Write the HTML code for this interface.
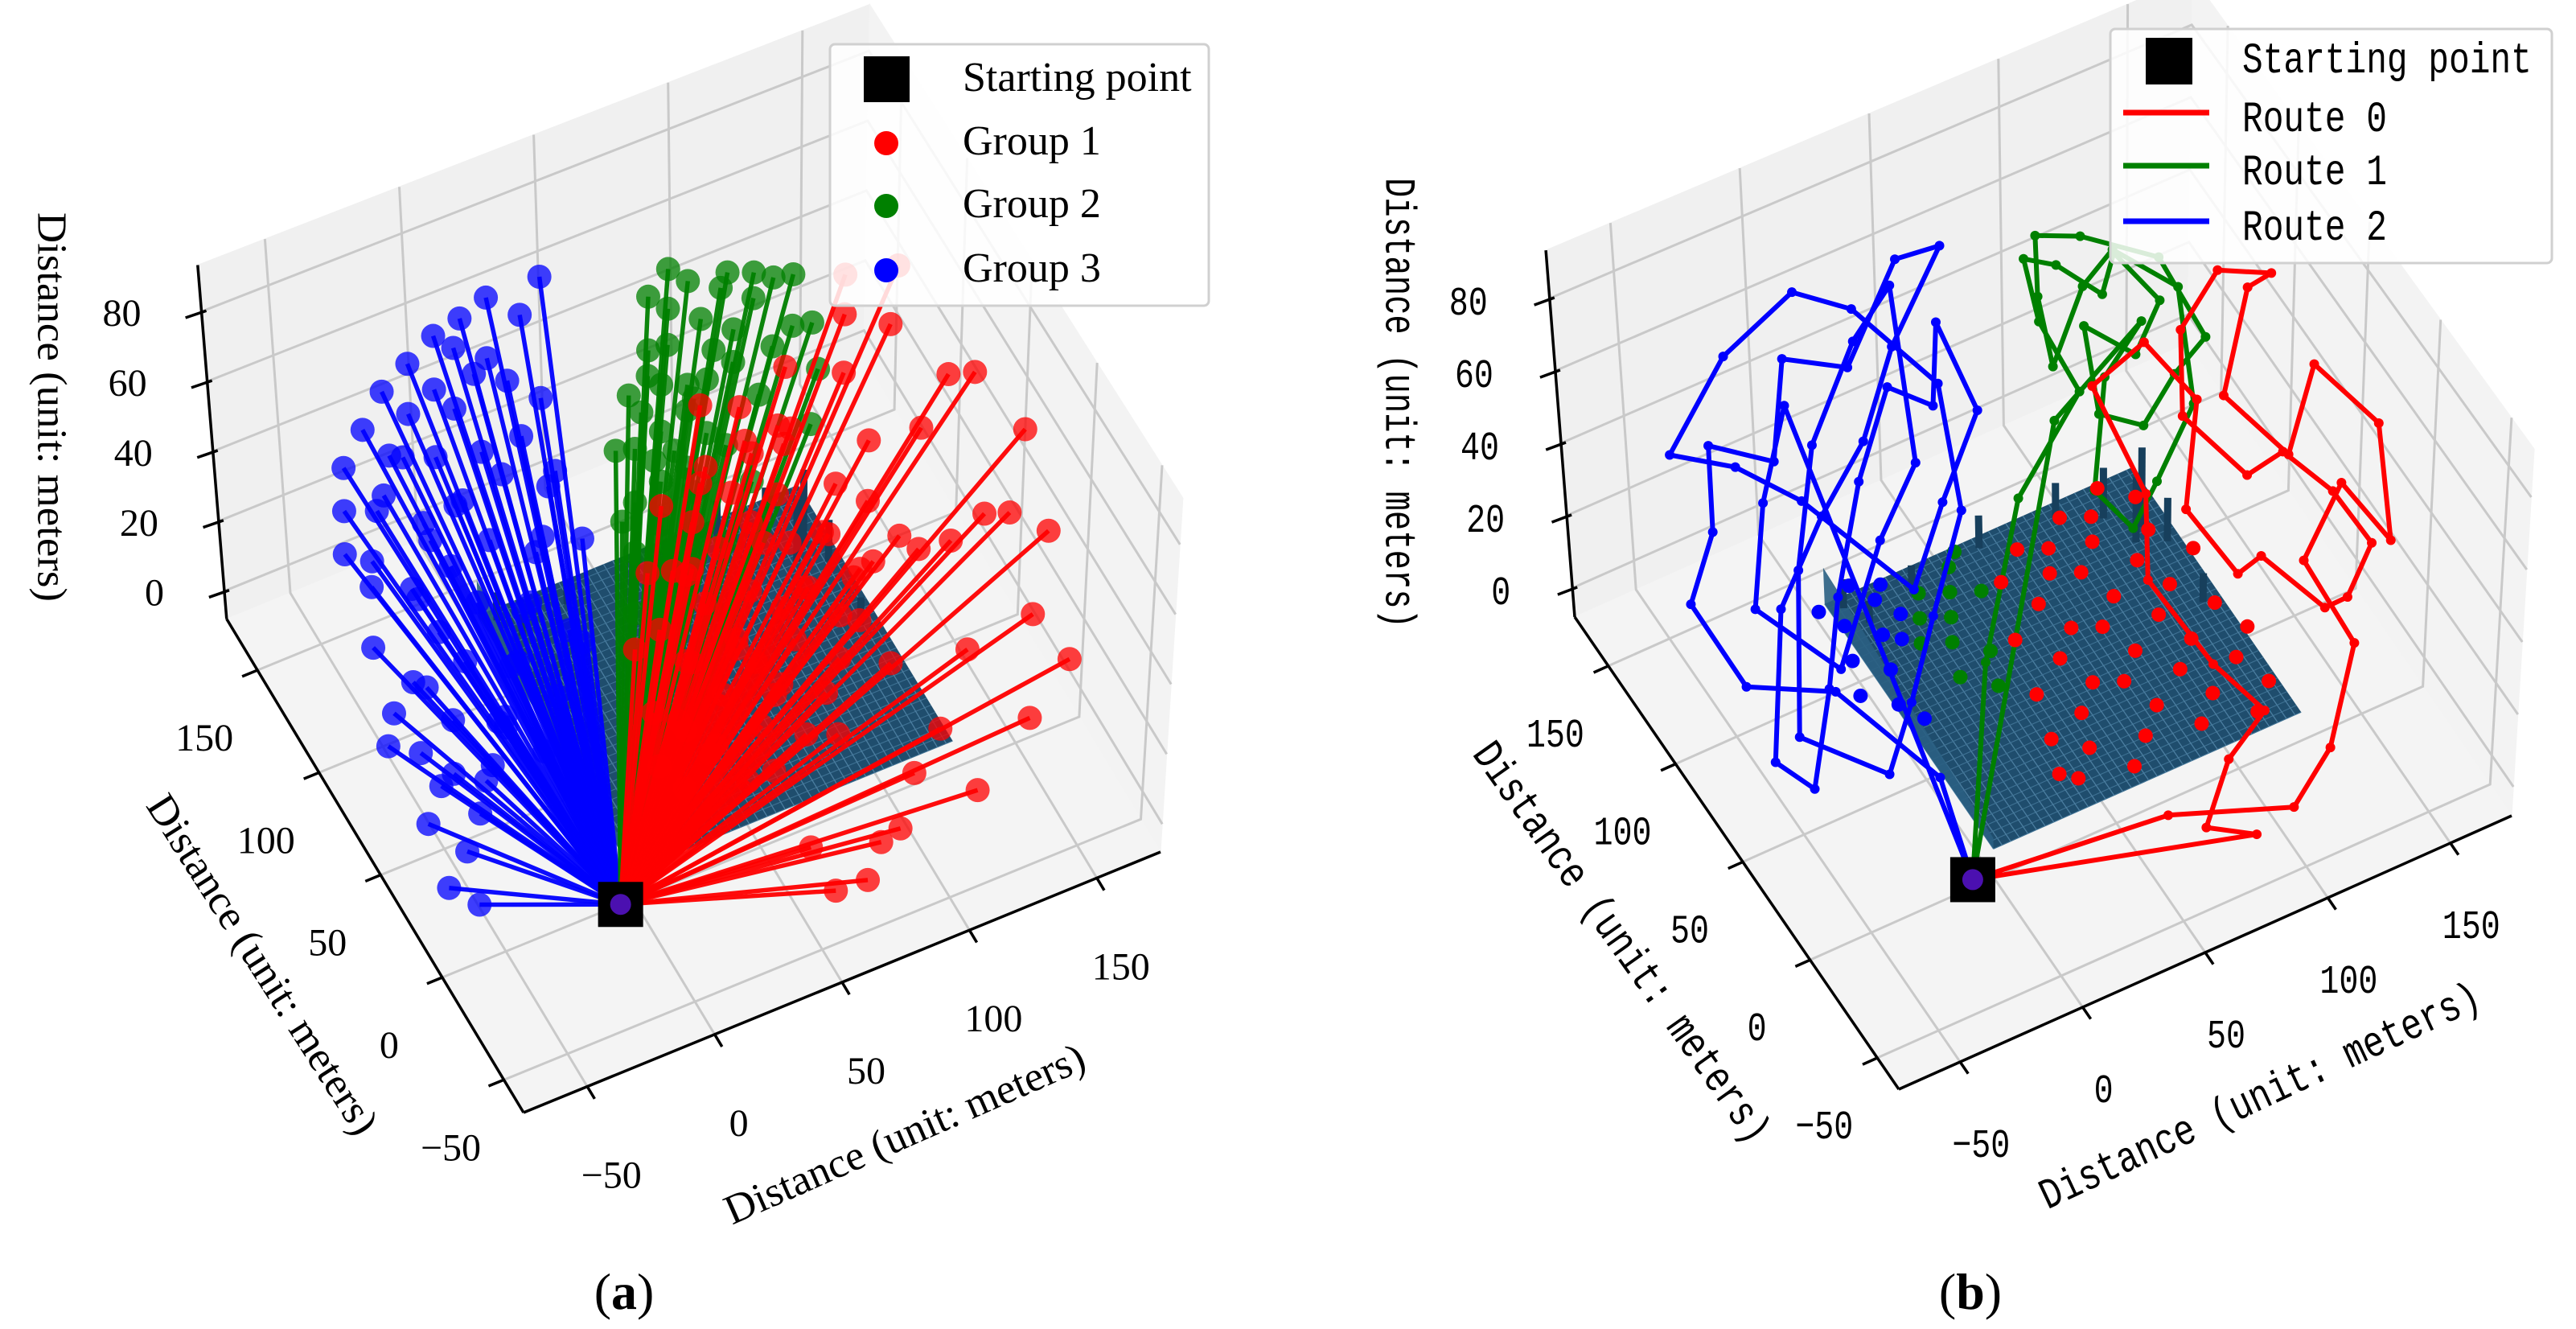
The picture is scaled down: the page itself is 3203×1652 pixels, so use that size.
<!DOCTYPE html>
<html><head><meta charset="utf-8"><title>3D grouping and routes</title>
<style>html,body{margin:0;padding:0;background:#fff;}svg{display:block;}</style>
</head><body>
<svg id="fig" xmlns="http://www.w3.org/2000/svg" width="3203" height="1652" viewBox="0 0 3203 1652">
<rect x="0" y="0" width="3203" height="1652" fill="#ffffff"/>
<g id="pa"></g>
<g id="pb"></g>
</svg>
<script>
// ---- data ----
const xTicks=[-50,0,50,100,150];
const yTicks=[-50,0,50,100,150];
const zTicks=[0,20,40,60,80];
const startA=[-5,0,-8];
const startB=[-7,3,-8];
const group1Pts=[[160,10,20],[150,30,40],[170,0,10],[140,60,50],[120,80,60],[100,90,45],[130,40,30],[110,20,15],[90,50,25],[80,70,35],[150,-10,5],[60,-40,0],[70,-45,3],[80,-35,5],[55,-30,8],[100,-20,10],[120,0,5],[140,20,10],[165,40,30],[155,70,55],[130,100,62],[110,105,50],[95,110,40],[75,100,30],[60,80,20],[50,60,10],[40,40,5],[30,20,3],[70,30,12],[85,10,8],[105,60,30],[125,70,45],[140,85,65],[160,60,60],[135,110,66],[90,90,40],[65,50,15],[45,80,25],[100,40,20],[170,20,35],[175,50,45],[120,-30,5],[90,-30,3],[60,10,5],[80,110,45],[150,100,70],[60,100,28],[35,70,12],[115,55,20],[145,45,25],
[40,20,10],[50,30,18],[60,40,25],[70,50,30],[80,60,35],[90,70,40],[45,45,20],[55,55,28],[65,65,35],[75,75,42],[85,85,48],[50,10,5],[60,20,12],[70,25,18],[80,35,22],[90,45,28],[100,55,35],[110,65,40],[40,60,22],[50,70,30],[60,75,38],[70,85,45],[35,35,12],[45,25,8],[95,30,15],[105,35,20],[115,45,28],[75,15,8],[85,20,14],[65,35,20],[55,65,32],[100,80,50],[90,60,32],[80,45,25],[30,45,10],[25,30,5],[110,50,22],[120,60,35],[130,55,25],[95,75,50]];
const group2Pts=[[60,90,20],[70,110,35],[80,120,45],[90,130,55],[100,135,58],[110,130,55],[120,120,50],[95,115,50],[85,100,38],[75,80,25],[65,70,15],[55,60,10],[100,105,45],[110,115,50],[120,135,55],[105,140,58],[90,140,60],[80,135,58],[70,130,52],[60,125,45],[50,115,38],[45,100,28],[40,80,15],[130,125,45],[125,110,42],[115,95,38],[90,90,32],[80,115,44],[70,100,36],[60,105,38],[100,125,52],[115,140,55],[130,140,50],[85,145,62],[75,140,60],[50,60,5],[40,50,3],[35,60,5],
[50,80,25],[55,90,30],[60,100,35],[65,110,42],[70,120,48],[75,125,55],[45,90,25],[50,100,32],[55,110,40],[60,115,46],[65,120,52],[40,70,12],[45,75,18],[35,70,10],[55,85,28],[70,95,32],[80,105,40],[85,115,48],[90,120,52],[75,110,45]];
const group3Pts=[[-60,100,50],[-55,110,55],[-50,120,60],[-40,125,65],[-30,130,70],[-20,130,75],[-10,130,80],[0,130,82],[10,130,85],[20,125,80],[30,130,85],[-60,80,35],[-65,60,20],[-60,40,8],[-50,50,10],[-45,70,25],[-40,90,40],[-30,100,50],[-20,110,60],[-10,115,68],[0,120,72],[10,115,70],[20,110,65],[-55,90,45],[-45,105,55],[-35,115,62],[-25,120,68],[-15,120,72],[-5,125,78],[5,120,75],[-50,30,3],[-40,40,5],[-30,50,10],[-20,60,15],[-10,70,22],[0,80,30],[10,90,40],[20,100,50],[25,90,35],[15,70,20],[-62,20,2],[-55,10,1],
[-40,60,20],[-30,70,28],[-20,80,36],[-10,90,45],[0,100,55],[10,105,60],[-35,80,32],[-25,90,42],[-15,100,52],[-5,105,60],[-45,50,12],[-35,45,10],[-25,55,18],[-15,65,25],[-5,75,32],[5,85,40],[15,95,50],[-50,70,28],[-40,85,40],[-30,95,48],[-20,60,12],[-10,50,8],[0,60,15],[10,70,25],[-55,55,18],[-60,65,25],[-50,100,45],[-40,110,55],[-30,115,60],[-20,95,55]];
const route0Pts=[[60,-20,2],[100,-40,3],[120,-30,8],[140,-10,20],[130,10,35],[150,20,45],[165,10,30],[170,30,50],[155,50,60],[140,40,45],[125,60,55],[145,80,68],[160,90,62],[150,110,55],[130,100,50],[120,80,40],[135,60,30],[155,70,25],[170,60,15],[175,40,10],[160,30,5],[145,20,12],[130,40,20],[115,30,25],[105,50,35],[120,70,50],[110,90,58],[95,100,45],[100,70,30],[90,50,20],[100,20,10],[110,0,5],[90,-10,3],[70,-30,1],[85,-40,0]];
const route1Pts=[[30,60,10],[60,90,30],[90,100,45],[85,120,55],[90,140,60],[100,135,58],[110,120,55],[120,130,58],[130,115,50],[115,105,45],[100,115,52],[95,95,40],[110,90,35],[125,95,42],[140,100,45],[135,125,55],[115,145,56],[100,150,58],[90,130,55],[85,110,48],[105,125,56],[125,140,52],[140,120,48],[130,90,35],[110,80,25],[95,70,22],[85,80,30],[100,100,46],[120,110,50],[80,100,40]];
const route2Pts=[[-5,30,5],[-30,60,20],[-60,70,25],[-70,90,40],[-55,100,50],[-45,120,60],[-25,110,55],[-10,130,68],[10,120,65],[40,140,75],[60,145,70],[30,125,62],[10,110,50],[-15,95,45],[-40,80,35],[-60,50,15],[-50,40,10],[-35,55,25],[-20,75,35],[0,95,50],[20,110,62],[35,105,55],[50,130,60],[55,110,45],[30,90,38],[10,75,28],[-20,100,48],[-40,110,58],[-60,120,62],[-30,135,72],[0,140,78],[20,135,70],[45,120,50],[40,95,30],[20,80,15],[0,60,8],[-20,40,5],[-45,60,12],[-30,85,40],[-10,110,55],[15,125,68],[35,135,72],[25,100,45],[5,90,35],[-25,65,22],[-50,80,38],[-35,100,52],[-15,120,62]];
const groundRedPts=[[40,10],[50,20],[60,5],[70,15],[80,25],[90,10],[100,20],[110,5],[120,15],[55,35],[65,45],[75,40],[85,50],[95,35],[105,45],[115,30],[125,40],[60,60],[70,70],[80,65],[90,75],[100,60],[110,70],[120,55],[65,85],[75,95],[85,90],[95,100],[105,85],[115,95],[70,110],[80,105],[90,115],[100,110],[45,50],[50,75],[40,30],[35,15],[125,80],[118,110],[108,120],[58,100]];
const groundGreenPts=[[25,70],[30,85],[35,95],[40,105],[45,115],[50,100],[30,110],[20,90],[40,75],[35,60],[25,100],[50,120]];
const groundBluePts=[[0,70],[5,85],[10,100],[15,115],[-5,95],[0,110],[10,125],[20,120],[-10,80],[5,60],[15,95],[20,105],[-5,120]];
const terrainSpikes=[[110,95,18],[115,100,22],[105,110,14],[120,90,12],[5,120,8],[10,110,6],[60,120,9],[30,115,7],[90,118,10],[118,60,8]];

// ---- geometry ----
const X0=-75,X1=175,Y0=-66,Y1=175,Z0=-8,Z1=93.3;
const PA={o:[651,1383],ex:[3.168,-1.296],ey:[-1.532,-2.546],ezy:-4.343,ezL:-36,xL:281,k:0.055};
const PB={o:[2361,1354],ex:[3.048,-1.36],ey:[-1.672,-2.436],ezy:-4.5,ezL:-36,xL:1958,k:0.055};
function proj(P,x,y,z){
  const bx=P.o[0]+(x-X0)*P.ex[0]+(y-Y0)*P.ey[0];
  const by=P.o[1]+(x-X0)*P.ex[1]+(y-Y0)*P.ey[1];
  const t=z-Z0;
  const dx=(P.ezL+(bx-P.xL)*P.k)/(Z1-Z0);
  return [bx+t*dx, by+t*P.ezy];
}
const NS='http://www.w3.org/2000/svg';
function mk(tag,attrs,parent){const e=document.createElementNS(NS,tag);for(const k in attrs)e.setAttribute(k,attrs[k]);parent.appendChild(e);return e;}
function pts(arr){return arr.map(p=>p[0].toFixed(1)+','+p[1].toFixed(1)).join(' ');}

function drawFrame(P,root,prefix){
  const floor=[proj(P,X0,Y0,Z0),proj(P,X1,Y0,Z0),proj(P,X1,Y1,Z0),proj(P,X0,Y1,Z0)];
  const wallY=[proj(P,X0,Y1,Z0),proj(P,X1,Y1,Z0),proj(P,X1,Y1,Z1),proj(P,X0,Y1,Z1)];
  const wallX=[proj(P,X1,Y0,Z0),proj(P,X1,Y1,Z0),proj(P,X1,Y1,Z1),proj(P,X1,Y0,Z1)];
  let e=mk('polygon',{points:pts(wallY),fill:'#f0f0f0',stroke:'#f0f0f0','stroke-width':1},root);
  
  
  e=mk('polygon',{points:pts(wallX),fill:'#f3f3f3',stroke:'#f3f3f3','stroke-width':1},root);
  
  
  e=mk('polygon',{points:pts(floor),fill:'#f4f4f4',stroke:'#f4f4f4','stroke-width':1},root);
  
  
  const grid=mk('g',{stroke:'#c9c9c9','stroke-width':3,fill:'none'},root);
  
  
  xTicks.forEach(v=>{
    mk('polyline',{points:pts([proj(P,v,Y0,Z0),proj(P,v,Y1,Z0),proj(P,v,Y1,Z1)])},grid);
  });
  yTicks.forEach(v=>{
    mk('polyline',{points:pts([proj(P,X0,v,Z0),proj(P,X1,v,Z0),proj(P,X1,v,Z1)])},grid);
  });
  zTicks.forEach(v=>{
    mk('polyline',{points:pts([proj(P,X0,Y1,v),proj(P,X1,Y1,v),proj(P,X1,Y0,v)])},grid);
  });
}

function drawAxes(P,root,prefix,opt){
  const ax=mk('g',{stroke:'#000','stroke-width':3.5,fill:'none'},root);
  
  
  mk('polyline',{points:pts([proj(P,X0,Y0,Z0),proj(P,X1,Y0,Z0)])},ax);
  mk('polyline',{points:pts([proj(P,X0,Y0,Z0),proj(P,X0,Y1,Z0)])},ax);
  mk('polyline',{points:pts([proj(P,X0,Y1,Z0),proj(P,X0,Y1,Z1)])},ax);
  const txt=mk('g',{fill:'#000','font-family':opt.font},root);
  
  
  xTicks.forEach(v=>{
    const a=proj(P,v,Y0,Z0),b=proj(P,v,Y0-6,Z0);
    mk('line',{x1:a[0],y1:a[1],x2:b[0],y2:b[1]},ax);
    const t=mk('text',{x:a[0]+opt.xOff[0],y:a[1]+opt.xOff[1],'font-size':opt.tick,'text-anchor':'middle'},txt);
    t.textContent=(v<0?'\u2212':'')+Math.abs(v);
    if(opt.cw){t.setAttribute('textLength',t.textContent.length*opt.cw);t.setAttribute('lengthAdjust','spacingAndGlyphs');}
  });
  yTicks.forEach(v=>{
    const a=proj(P,X0,v,Z0),b=proj(P,X0-6,v,Z0);
    mk('line',{x1:a[0],y1:a[1],x2:b[0],y2:b[1]},ax);
    const t=mk('text',{x:a[0]+opt.yOff[0],y:a[1]+opt.yOff[1],'font-size':opt.tick,'text-anchor':'middle'},txt);
    t.textContent=(v<0?'\u2212':'')+Math.abs(v);
    if(opt.cw){t.setAttribute('textLength',t.textContent.length*opt.cw);t.setAttribute('lengthAdjust','spacingAndGlyphs');}
  });
  zTicks.forEach(v=>{
    const a=proj(P,X0,Y1,v),b=proj(P,X0-6,Y1,v);
    mk('line',{x1:a[0]+6,y1:a[1]-1,x2:b[0],y2:b[1]},ax);
    const t=mk('text',{x:a[0]+opt.zOff[0],y:a[1]+opt.zOff[1],'font-size':opt.tick,'text-anchor':'end'},txt);
    t.textContent=String(v);
    if(opt.cw){t.setAttribute('textLength',t.textContent.length*opt.cw);t.setAttribute('lengthAdjust','spacingAndGlyphs');}
  });
  const labels=[['x-axis-title',opt.xl],['y-axis-title',opt.yl],['z-axis-title',opt.zl]];
  labels.forEach(L=>{
    const d=L[1];
    const t=mk('text',{x:0,y:0,'font-size':opt.lab,'font-family':opt.font,'text-anchor':'middle','dominant-baseline':'central',fill:'#000',transform:'translate('+d[0]+','+d[1]+') rotate('+d[2]+')'},root);
    
    
    t.textContent='Distance (unit: meters)';
    t.setAttribute('textLength',d[3]);t.setAttribute('lengthAdjust','spacingAndGlyphs');
  });
}

function drawTerrain(P,root,prefix){
  const g=mk('g',{},root);
  
  
  const c=[proj(P,0,0,0),proj(P,125,0,0),proj(P,125,125,0),proj(P,0,125,0)];
  mk('polygon',{points:pts(c),fill:'#1f4d6d'},g);
  for(let v=0;v<=125;v+=3.5){
    mk('polyline',{points:pts([proj(P,v,0,0),proj(P,v,125,0)]),stroke:'#4c7ea0','stroke-width':1.3,fill:'none'},g);
    mk('polyline',{points:pts([proj(P,0,v,0),proj(P,125,v,0)]),stroke:'#3f7294','stroke-width':1.1,fill:'none'},g);
  }
  const e1=[proj(P,0,0,0),proj(P,0,125,0),proj(P,0,125,10),proj(P,0,0,3)];
  mk('polygon',{points:pts(e1),fill:'#2a5f82',opacity:0.9},g);
  terrainSpikes.forEach(s=>{
    const a=proj(P,s[0],s[1],0),b=proj(P,s[0],s[1],s[2]);
    mk('line',{x1:a[0],y1:a[1],x2:b[0],y2:b[1],stroke:'#173f5c','stroke-width':9},g);
  });
}

function drawStart(P,root,prefix,s){
  const p=proj(P,s[0],s[1],s[2]);
  const r=mk('rect',{x:p[0]-28,y:p[1]-28,width:56,height:56,fill:'#000'},root);
  
  
  mk('circle',{cx:p[0],cy:p[1],r:13,fill:'#4b10b0'},root);
}

// ---------- Panel A ----------
const pa=document.getElementById('pa');
drawFrame(PA,pa,'a-');
drawTerrain(PA,pa,'a-');
function fan(P,root,arr,color,name,s){
  const g=mk('g',{},root);
  
  
  const sp=proj(P,s[0],s[1],s[2]);
  arr.forEach(d=>{
    const p=proj(P,d[0],d[1],d[2]);
    mk('line',{x1:sp[0],y1:sp[1],x2:p[0],y2:p[1],stroke:color,'stroke-width':5.5,opacity:0.95},g);
  });
  arr.forEach(d=>{
    const p=proj(P,d[0],d[1],d[2]);
    const c=mk('circle',{cx:p[0],cy:p[1],r:15,fill:color,opacity:0.75},g);
    
    
  });
}
fan(PA,pa,group3Pts,'#0000ff','group-3-series',startA);
fan(PA,pa,group2Pts,'#008000','group-2-series',startA);
fan(PA,pa,group1Pts,'#ff0000','group-1-series',startA);
drawAxes(PA,pa,'a-',{font:'"Liberation Serif", serif',tick:48,lab:52,
  xOff:[30,126],yOff:[-66,100],zOff:[-75,18],
  xl:[1125,1410,-23.8,484],yl:[326,1199,57.5,490],zl:[64,506,90,484]});
drawStart(PA,pa,'a-',startA);

(function(){
  const g=mk('g',{},pa);
  
  
  mk('rect',{x:1032,y:55,width:471,height:325,rx:6,fill:'#ffffff','fill-opacity':0.85,stroke:'#d0d0d0','stroke-width':3},g);
  mk('rect',{x:1074,y:70,width:57,height:57,fill:'#000'},g);
  const items=[['Starting point',113,null],['Group 1',192,'#ff0000'],['Group 2',270,'#008000'],['Group 3',350,'#0000ff']];
  items.forEach((it,i)=>{
    if(it[2]){mk('circle',{cx:1102,cy:it[1]-14,r:15,fill:it[2]},g);}
    const t=mk('text',{x:1197,y:it[1],'font-size':52,'font-family':'"Liberation Serif", serif',fill:'#000'},g);
    
    
    t.textContent=it[0];
  });
})();
const capA=mk('text',{x:776,y:1627,'font-size':64,'font-family':'"Liberation Serif", serif','text-anchor':'middle',fill:'#000'},pa);


capA.innerHTML='(<tspan font-weight="bold">a</tspan>)';

// ---------- Panel B ----------
const pb=document.getElementById('pb');
drawFrame(PB,pb,'b-');
drawTerrain(PB,pb,'b-');
function route(P,root,arr,color,name,s){
  const g=mk('g',{},root);
  
  
  const all=[s].concat(arr).concat([s]);
  const sp=all.map(d=>proj(P,d[0],d[1],d[2]));
  mk('polyline',{points:pts(sp),fill:'none',stroke:color,'stroke-width':6,'stroke-linejoin':'round'},g);
  sp.forEach(p=>{mk('circle',{cx:p[0],cy:p[1],r:6,fill:color},g);});
}
function ground(P,root,arr,color,name){
  const g=mk('g',{},root);
  
  
  arr.forEach(d=>{
    const p=proj(P,d[0],d[1],2);
    mk('circle',{cx:p[0],cy:p[1],r:9,fill:color},g);
  });
}
ground(PB,pb,groundBluePts,'#0000ff','b-ground-blue-points');
ground(PB,pb,groundGreenPts,'#008000','b-ground-green-points');
route(PB,pb,route2Pts,'#0000ff','route-2-series',startB);
route(PB,pb,route1Pts,'#008000','route-1-series',startB);
route(PB,pb,route0Pts,'#ff0000','route-0-series',startB);
ground(PB,pb,groundRedPts,'#ff0000','b-ground-red-points');
drawAxes(PB,pb,'b-',{font:'"Liberation Mono", monospace',tick:50,lab:54,cw:24,
  xOff:[26,118],yOff:[-66,100],zOff:[-77,20],
  xl:[2811,1365,-25,598],yl:[2014,1173,54.6,598],zl:[1737,501,90,560]});
drawStart(PB,pb,'b-',startB);
(function(){
  const g=mk('g',{},pb);
  
  
  mk('rect',{x:2624,y:36,width:549,height:291,rx:6,fill:'#ffffff','fill-opacity':0.85,stroke:'#d0d0d0','stroke-width':3},g);
  mk('rect',{x:2668,y:47,width:58,height:58,fill:'#000'},g);
  const items=[['Starting point',90,null],['Route 0',163,'#ff0000'],['Route 1',229,'#008000'],['Route 2',298,'#0000ff']];
  items.forEach((it,i)=>{
    if(it[2]){mk('line',{x1:2640,y1:it[1]-23,x2:2747,y2:it[1]-23,stroke:it[2],'stroke-width':7},g);}
    const t=mk('text',{x:2788,y:it[1],'font-size':54,'font-family':'"Liberation Mono", monospace',fill:'#000',textLength:it[0].length*25.7,lengthAdjust:'spacingAndGlyphs'},g);
    
    
    t.textContent=it[0];
  });
})();
const capB=mk('text',{x:2450,y:1627,'font-size':64,'font-family':'"Liberation Serif", serif','text-anchor':'middle',fill:'#000'},pb);


capB.innerHTML='(<tspan font-weight="bold">b</tspan>)';
</script>
</body></html>
